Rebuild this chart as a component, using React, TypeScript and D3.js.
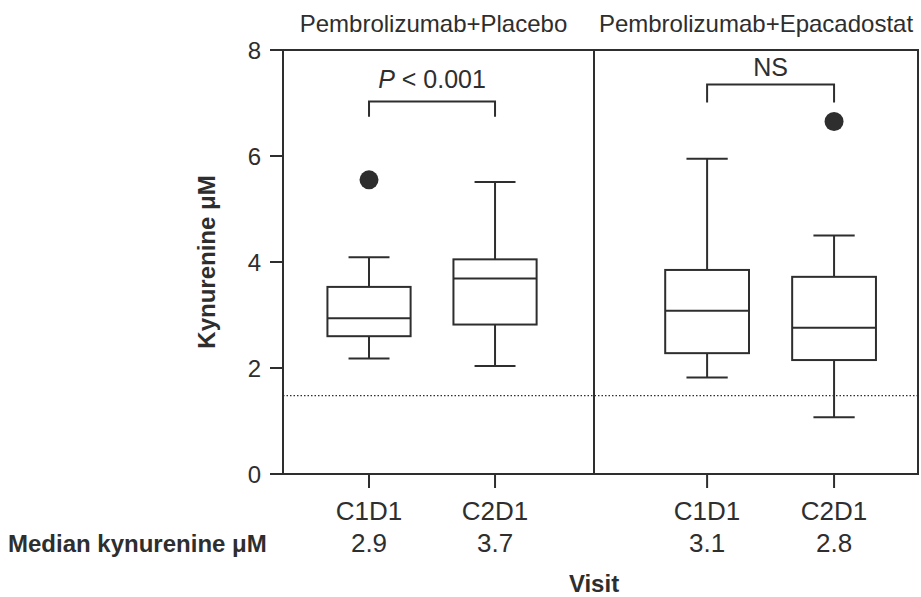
import React from "react";
import * as d3 from "d3";

const groups = ["Pembrolizumab+Placebo", "Pembrolizumab+Epacadostat"];
const visits = ["C1D1", "C2D1"];
// order: [Placebo C1D1, Placebo C2D1, Epacadostat C1D1, Epacadostat C2D1]
const whiskerLow = [2.18, 2.04, 1.82, 1.07];
const q1 = [2.6, 2.82, 2.28, 2.15];
const medians = [2.94, 3.69, 3.08, 2.76];
const q3 = [3.53, 4.05, 3.85, 3.72];
const whiskerHigh = [4.09, 5.51, 5.95, 4.5];
const outliers: number[][] = [[5.55], [], [], [6.65]];
const medianLabels = ["2.9", "3.7", "3.1", "2.8"];
const yTicks = [0, 2, 4, 6, 8];
const lloq = 1.48;
const bracketTop = [7.03, 7.35];
const bracketLeg = [6.74, 7.01];
const compLabels = [{ italic: "P", rest: " < 0.001" }, { italic: "", rest: "NS" }];

const W = 921;
const H = 597;
const plotLeft = 283;
const divider = 594;
const plotRight = 918;
const plotTop = 50;
const plotBottom = 474;
const C = "#2e2e2e";
const FONT = "'Liberation Sans', Arial, Helvetica, sans-serif";

export default function App() {
  const y = d3.scaleLinear().domain([0, 8]).range([plotBottom, plotTop]);
  const panelRanges: [number, number][] = [
    [plotLeft, divider],
    [divider, plotRight],
  ];
  const panelPad = [0.734, 0.776];
  const panelAlign = [0.465, 0.574];
  const labelGap = [13, 8];
  const xs = groups.map((_, gi) =>
    d3.scalePoint<string>().domain(visits).range(panelRanges[gi]).padding(panelPad[gi]).align(panelAlign[gi])
  );

  const boxes = groups.flatMap((g, gi) =>
    visits.map((v, vi) => {
      const i = gi * 2 + vi;
      const cx = xs[gi](v) as number;
      return { i, gi, v, cx, step: xs[gi].step() };
    })
  );

  return (
    <svg width={W} height={H} style={{ position: "absolute", left: 0, top: 0 }} fontFamily={FONT}>
      <rect width={W} height={H} fill="#fff" />
      {groups.map((g, gi) => (
        <text
          key={g}
          x={(panelRanges[gi][0] + panelRanges[gi][1]) / 2 - (gi === 0 ? 5 : 0)}
          y={32}
          textAnchor="middle"
          fontSize={24}
          fill={C}
        >
          {g}
        </text>
      ))}
      <rect x={plotLeft} y={plotTop} width={plotRight - plotLeft} height={plotBottom - plotTop} fill="none" stroke={C} strokeWidth={2} />
      <line x1={divider} x2={divider} y1={plotTop} y2={plotBottom} stroke={C} strokeWidth={2} />
      {yTicks.map((t) => (
        <g key={t}>
          <line x1={plotLeft - 13} x2={plotLeft} y1={y(t)} y2={y(t)} stroke={C} strokeWidth={2} />
          <text x={plotLeft - 22} y={y(t)} dy="0.36em" textAnchor="end" fontSize={24} fill={C}>
            {t}
          </text>
        </g>
      ))}
      <text
        transform={`translate(${215},${(plotTop + plotBottom) / 2}) rotate(-90)`}
        textAnchor="middle"
        fontSize={24}
        fontWeight="bold"
        fill={C}
      >
        Kynurenine μM
      </text>
      <line x1={plotLeft} x2={plotRight} y1={y(lloq)} y2={y(lloq)} stroke={C} strokeWidth={1.2} strokeDasharray="1.5,2" />
      {boxes.map(({ i, cx, step, v }) => {
        const bw = step * 0.66;
        const cw = step * 0.325;
        return (
          <g key={i} stroke={C} strokeWidth={2} fill="none">
            <line x1={cx} x2={cx} y1={y(whiskerHigh[i])} y2={y(q3[i])} />
            <line x1={cx} x2={cx} y1={y(q1[i])} y2={y(whiskerLow[i])} />
            <line x1={cx - cw / 2} x2={cx + cw / 2} y1={y(whiskerHigh[i])} y2={y(whiskerHigh[i])} />
            <line x1={cx - cw / 2} x2={cx + cw / 2} y1={y(whiskerLow[i])} y2={y(whiskerLow[i])} />
            <rect x={cx - bw / 2} y={y(q3[i])} width={bw} height={y(q1[i]) - y(q3[i])} fill="#fff" />
            <line x1={cx - bw / 2} x2={cx + bw / 2} y1={y(medians[i])} y2={y(medians[i])} />
            {outliers[i].map((o, k) => (
              <circle key={k} cx={cx} cy={y(o)} r={9.5} fill={C} stroke="none" />
            ))}
            <line x1={cx} x2={cx} y1={plotBottom} y2={plotBottom + 14} />
            <text x={cx} y={520} textAnchor="middle" fontSize={26} fill={C} stroke="none">
              {v}
            </text>
            <text x={cx} y={552} textAnchor="middle" fontSize={26} fill={C} stroke="none">
              {medianLabels[i]}
            </text>
          </g>
        );
      })}
      {groups.map((g, gi) => {
        const x1 = xs[gi](visits[0]) as number;
        const x2 = xs[gi](visits[1]) as number;
        const yt = y(bracketTop[gi]);
        const yl = y(bracketLeg[gi]);
        return (
          <g key={g}>
            <path d={`M${x1},${yl}V${yt}H${x2}V${yl}`} fill="none" stroke={C} strokeWidth={2} />
            <text x={(x1 + x2) / 2} y={yt - labelGap[gi]} textAnchor="middle" fontSize={25} fill={C}>
              {compLabels[gi].italic ? <tspan fontStyle="italic">{compLabels[gi].italic}</tspan> : null}
              {compLabels[gi].rest}
            </text>
          </g>
        );
      })}
      <text x={8} y={552} fontSize={24} fontWeight="bold" fill={C}>
        Median kynurenine μM
      </text>
      <text x={divider} y={592} textAnchor="middle" fontSize={24} fontWeight="bold" fill={C}>
        Visit
      </text>
    </svg>
  );
}
